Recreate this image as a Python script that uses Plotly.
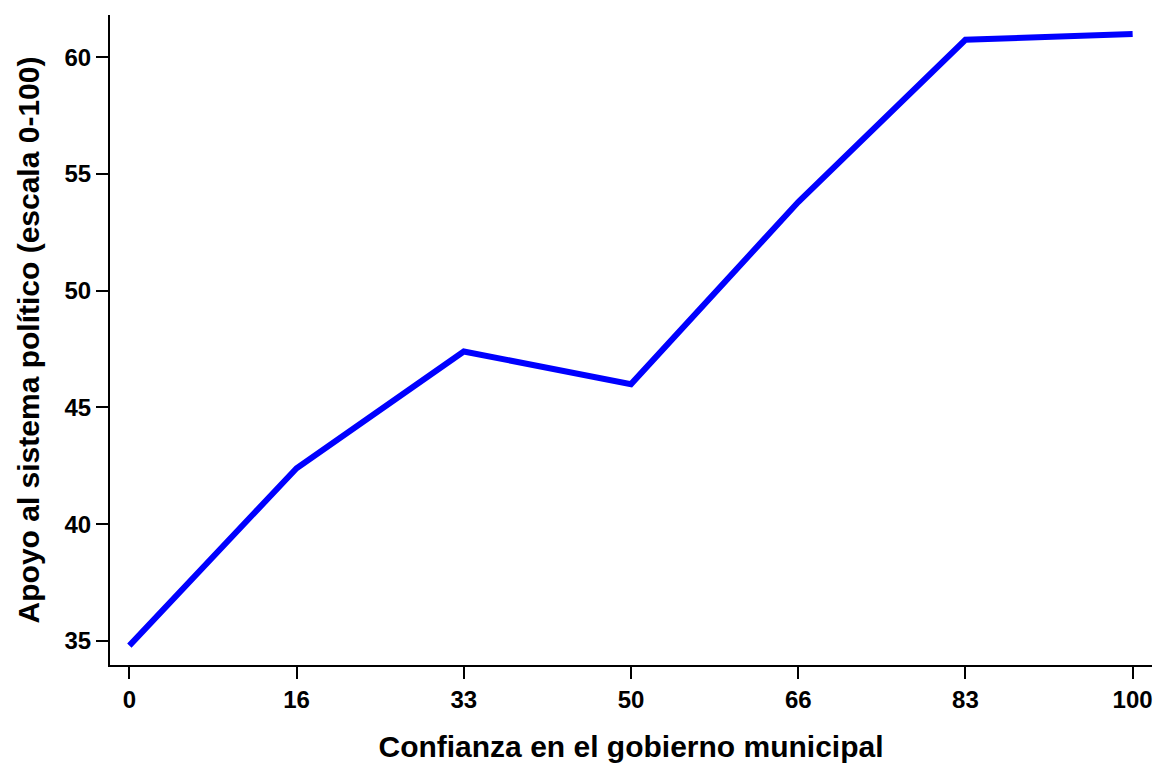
import plotly.graph_objects as go

x_values = [0, 16.667, 33.333, 50, 66.667, 83.333, 100]
x_tick_labels = ["0", "16", "33", "50", "66", "83", "100"]
y_values = [34.8, 42.4, 47.4, 46.0, 53.8, 60.75, 61.0]
y_ticks = [35, 40, 45, 50, 55, 60]

FONT = "Liberation Sans, Arial, sans-serif"

fig = go.Figure()
fig.add_trace(go.Scatter(
    x=x_values, y=y_values, mode="lines",
    line=dict(color="#0000FF", width=6),
    hoverinfo="x+y", showlegend=False,
))

fig.update_layout(
    width=1156, height=765,
    margin=dict(l=110, r=4, t=15, b=100),
    paper_bgcolor="white", plot_bgcolor="white",
    font=dict(family=FONT, color="black"),
    xaxis=dict(
        range=[-1.93, 101.93], tickmode="array",
        tickvals=x_values, ticktext=["<b>%s</b>" % t for t in x_tick_labels],
        showgrid=False, zeroline=False, showline=True, linecolor="black", linewidth=2,
        ticks="outside", ticklen=12, tickwidth=2, tickcolor="black",
        tickfont=dict(size=24, family=FONT), ticklabeloverflow="allow",
        title=dict(text="<b>Confianza en el gobierno municipal</b>", font=dict(size=30, family=FONT), standoff=24),
    ),
    yaxis=dict(
        range=[33.97, 61.81], tickmode="array",
        tickvals=y_ticks, ticktext=["<b>%d</b>" % t for t in y_ticks],
        showgrid=False, zeroline=False, showline=True, linecolor="black", linewidth=2,
        ticks="outside", ticklen=12, tickwidth=2, tickcolor="black",
        tickfont=dict(size=24, family=FONT),
        title=dict(text="<b>Apoyo al sistema político (escala 0-100)</b>", font=dict(size=30, family=FONT), standoff=16),
    ),
)

fig.write_html(
    "out.html",
    config={"displayModeBar": False},
    post_script="document.body.style.margin='0';document.body.style.overflow='hidden';",
)
